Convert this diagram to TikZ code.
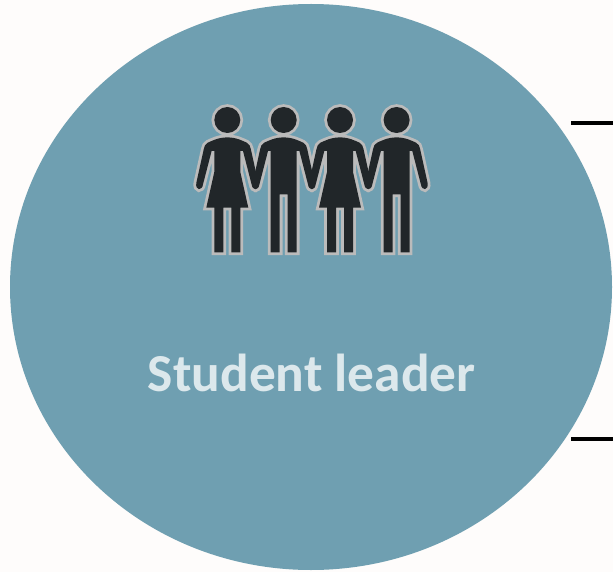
\documentclass[tikz,border=0pt]{standalone}
\usepackage{fontspec}
\setmainfont{Carlito}
\usepackage{tikz}
\usetikzlibrary{shapes.geometric}
\definecolor{paper}{HTML}{FEFCFB}
\definecolor{disc}{HTML}{6F9FB1}
\definecolor{discText}{HTML}{DCE8EC}
\definecolor{figDark}{HTML}{212629}
\definecolor{figEdge}{HTML}{BBBBBB}
\tikzstyle{leader}=[ellipse, inner sep=0pt, fill=disc, minimum width=602pt, minimum height=566pt]
\tikzstyle{title}=[inner sep=0pt, text=discText, font=\bfseries\fontsize{53.4}{58}\selectfont]
\tikzstyle{stub}=[black, line width=4pt]
\tikzstyle{figOutline}=[draw=figEdge, line width=5.6pt, miter limit=4]
\tikzstyle{figBody}=[fill=figDark]
\newcommand{\personTop}{(0,0) circle (13)
	(0,17.4) .. controls (-9,17.4) and (-15,20.7) .. (-19.5,22.7) .. controls (-22,24.2) and (-23,26) .. (-23.5,29) -- (-31,63)
	.. controls (-32.2,70.5) and (-25.2,71.5) .. (-24.2,64) -- (-15.7,31) -- (-13,31)}
\newcommand{\personEnd}{-- (13,31) -- (15.7,31) -- (24.2,64)
	.. controls (25.2,71.5) and (32.2,70.5) .. (31,63) -- (23.5,29)
	.. controls (23,26) and (22,24.2) .. (19.5,22.7) .. controls (15,20.7) and (9,17.4) .. (0,17.4) -- cycle}
\newcommand{\womanPath}{\personTop -- (-13,52) -- (-21,87.7) -- (-13,87.7) -- (-13,132.3) -- (-4,132.3) -- (-4,87.7)
	-- (4,87.7) -- (4,132.3) -- (13,132.3) -- (13,87.7) -- (21,87.7) -- (13,52) \personEnd}
\newcommand{\manPath}{\personTop -- (-13,132.3) -- (-4,132.3) -- (-4,74.3)
	-- (4,74.3) -- (4,132.3) -- (13,132.3) \personEnd}
\begin{document}
\begin{tikzpicture}[x=1pt, y=-1pt]
	\useasboundingbox (0,0) rectangle (613,572);
	\fill[paper] (0,0) rectangle (613,572);
	\draw (311,287) node[leader] (disc) {};
	\draw (311.7,373) node[title] (name) {Student leader};
	% stubs on the right
	\coordinate (s1a) at (571,123.5);
	\coordinate (s1b) at (613,123.5);
	\coordinate (s2a) at (571,438.7);
	\coordinate (s2b) at (613,438.7);
	\draw[stub] (s1a) -- (s1b);
	\draw[stub] (s2a) -- (s2b);
	% people: edges first, then bodies, so the hands merge
	\foreach \look in {figOutline, figBody} {
		\foreach \px/\shape in {227.3/\womanPath, 283.7/\manPath, 340/\womanPath, 396.6/\manPath} {
			\begin{scope}[shift={(\px,120)}]
				\path[\look] \shape;
			\end{scope}
		}
	}
\end{tikzpicture}
\end{document}
